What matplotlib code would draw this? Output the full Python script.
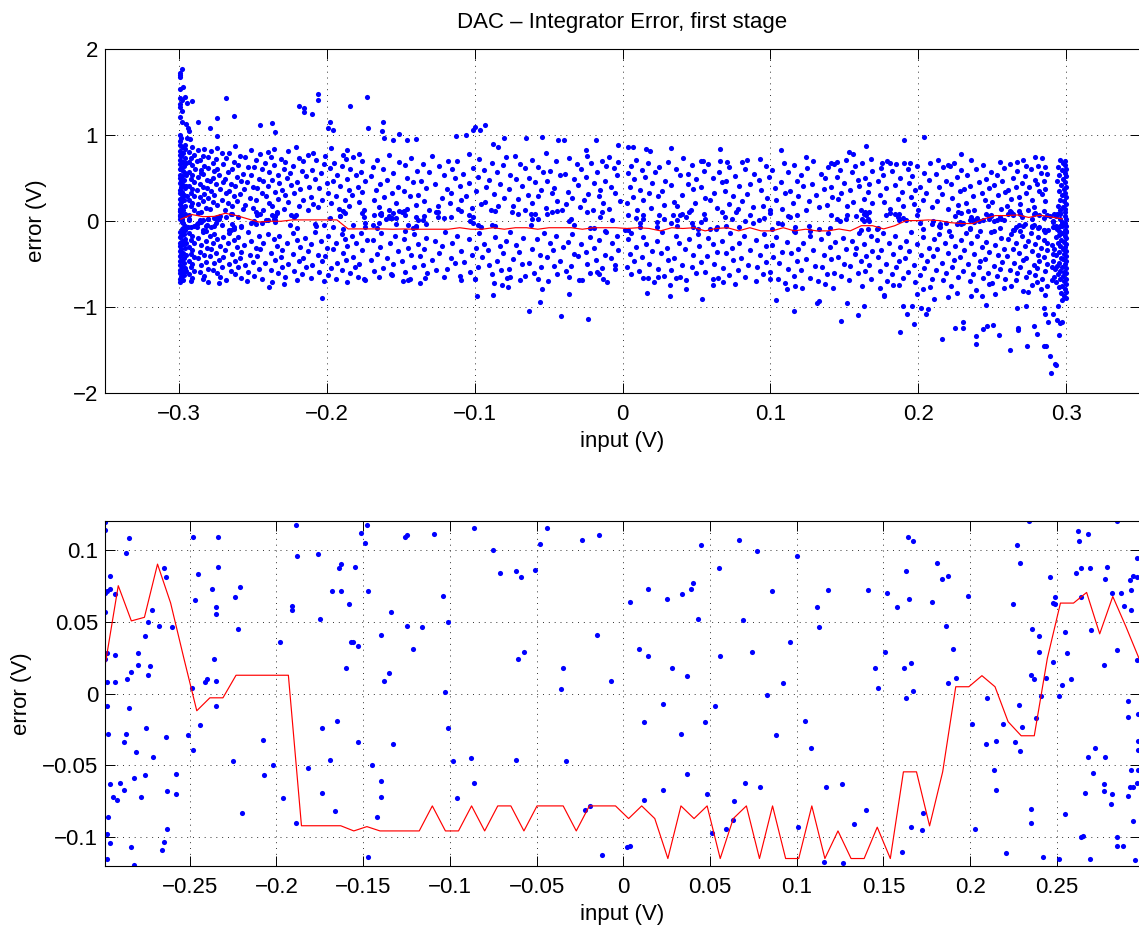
#!/usr/bin/env python3
"""DAC - integrator error vs input, full view and zoom on the mean trace."""
import numpy as np
import matplotlib
matplotlib.use("Agg")
import matplotlib.pyplot as plt

plt.rcParams['font.family'] = ['Liberation Sans', 'DejaVu Sans']

# ── Data ──────────────────────────────────────────────────
TITLE = "DAC \u2013 Integrator Error, first stage"
XLABEL = "input (V)"
YLABEL = "error (V)"

# binned mean of the error (red trace): 80 bins over the input span
bin_lo, bin_hi = -0.2988, 0.2974
mean_err = [0.020, 0.075, 0.0505, 0.053, 0.090, 0.063, 0.025, -0.012, -0.003, -0.003,
            0.0127, 0.0127, 0.0127, 0.0127, 0.0127, -0.092, -0.092, -0.092, -0.092, -0.0956,
            -0.0926, -0.0956, -0.0956, -0.0956, -0.0956, -0.0782, -0.0956, -0.0956, -0.0782, -0.0956,
            -0.0782, -0.0782, -0.0956, -0.0782, -0.0782, -0.0782, -0.0956, -0.0782, -0.0782, -0.0782,
            -0.087, -0.0782, -0.087, -0.1148, -0.0782, -0.087, -0.0782, -0.1148, -0.087, -0.0782,
            -0.1148, -0.0782, -0.1148, -0.1148, -0.0782, -0.1148, -0.0956, -0.1148, -0.1148, -0.093,
            -0.1148, -0.0545, -0.0545, -0.0921, -0.0545, 0.0047, 0.0047, 0.0124, 0.0047, -0.0196,
            -0.0294, -0.0294, 0.0245, 0.0629, 0.0629, 0.0703, 0.0415, 0.0675, 0.0466, 0.0245]

# samples with |error| < 0.12
band_pts = [
    (-0.299,0.119),(-0.299,0.114),(-0.285,0.108),(-0.287,0.098),(-0.296,0.082),(-0.296,0.073),(-0.299,0.070),(-0.298,0.071),(-0.293,0.069),(-0.299,0.057),
    (-0.265,0.087),(-0.264,0.081),(-0.272,0.058),(-0.274,0.050),(-0.268,0.047),(-0.276,0.040),(-0.260,0.046),(-0.298,0.028),(-0.293,0.027),(-0.299,0.024),
    (-0.280,0.028),(-0.280,0.020),(-0.273,0.019),(-0.284,0.015),(-0.274,0.013),(-0.286,0.010),(-0.298,0.008),(-0.293,0.008),(-0.298,-0.009),(-0.285,-0.010),
    (-0.297,-0.028),(-0.287,-0.028),(-0.275,-0.024),(-0.288,-0.034),(-0.264,-0.030),(-0.281,-0.041),(-0.271,-0.044),(-0.251,-0.029),(-0.248,-0.039),(-0.296,-0.063),
    (-0.290,-0.062),(-0.276,-0.057),(-0.258,-0.056),(-0.282,-0.059),(-0.294,-0.072),(-0.292,-0.074),(-0.288,-0.067),(-0.278,-0.072),(-0.263,-0.068),(-0.258,-0.070),
    (-0.297,-0.086),(-0.263,-0.094),(-0.298,-0.098),(-0.296,-0.104),(-0.284,-0.107),(-0.265,-0.103),(-0.266,-0.109),(-0.298,-0.115),(-0.282,-0.119),(-0.248,0.109),
    (-0.234,0.109),(-0.234,0.088),(-0.245,0.083),(-0.237,0.073),(-0.247,0.065),(-0.235,0.060),(-0.235,0.055),(-0.236,0.024),(-0.240,0.010),(-0.241,0.008),
    (-0.235,0.009),(-0.249,0.004),(-0.235,-0.009),(-0.244,-0.022),(-0.225,-0.047),(-0.220,-0.083),(-0.208,-0.032),(-0.207,-0.057),(-0.202,-0.050),(-0.196,-0.073),
    (-0.189,-0.090),(-0.182,-0.052),(-0.174,-0.024),(-0.174,-0.069),(-0.169,-0.046),(-0.165,-0.019),(-0.166,-0.082),(-0.153,-0.034),(-0.160,0.018),(-0.158,0.062),
    (-0.191,0.061),(-0.191,0.058),(-0.189,0.117),(-0.188,0.096),(-0.176,0.097),(-0.175,0.052),(-0.168,0.071),(-0.164,0.087),(-0.163,0.090),(-0.163,0.071),
    (-0.155,0.088),(-0.157,0.036),(-0.156,0.036),(-0.153,0.033),(-0.148,0.117),(-0.151,0.112),(-0.149,0.105),(-0.147,0.071),(-0.147,-0.114),(-0.198,0.036),
    (-0.224,0.067),(-0.221,0.074),(-0.222,0.045),
    (-0.134,0.057),(-0.140,0.041),(-0.125,0.047),(-0.116,0.046),(-0.121,0.031),(-0.135,0.014),(-0.138,0.009),(-0.126,0.109),(-0.125,0.110),(-0.109,0.111),
    (-0.104,0.068),(-0.101,0.050),(-0.103,0.001),(-0.101,-0.024),(-0.133,-0.035),(-0.145,-0.050),(-0.140,-0.061),(-0.140,-0.072),(-0.142,-0.086),(-0.098,-0.047),
    (-0.088,-0.045),(-0.086,-0.062),(-0.096,-0.073),(-0.086,0.115),(-0.075,0.100),(-0.071,0.084),(-0.062,0.085),(-0.059,0.081),(-0.051,0.086),(-0.061,0.024),
    (-0.057,0.029),(-0.062,-0.046),(-0.048,0.104),(-0.044,0.115),(-0.024,0.107),(-0.014,0.110),(-0.015,0.041),(-0.035,0.018),(-0.036,0.003),(-0.007,0.009),
    (-0.033,-0.047),(-0.022,-0.081),(-0.019,-0.078),(-0.012,-0.112),
    (0.004,0.064),(0.014,0.073),(0.025,0.066),(0.034,0.069),(0.039,0.073),(0.040,0.077),(0.043,0.052),(0.045,0.103),(0.009,0.031),(0.014,0.026),
    (0.028,0.018),(0.037,0.012),(0.023,-0.007),(0.012,-0.020),(0.033,-0.028),(0.047,-0.020),(0.037,-0.056),(0.023,-0.067),(0.012,-0.074),(0.048,-0.070),
    (0.002,-0.107),(0.004,-0.106),(0.055,0.087),(0.067,0.107),(0.077,0.099),(0.086,0.071),(0.069,0.051),(0.056,0.026),(0.074,0.029),(0.096,0.036),
    (0.092,0.007),(0.083,-0.001),(0.053,-0.009),(0.088,-0.029),(0.070,-0.062),(0.079,-0.065),(0.064,-0.075),(0.063,-0.088),(0.059,-0.094),(0.051,-0.097),
    (0.100,0.096),(0.118,0.072),(0.112,0.060),(0.113,0.046),(0.141,0.072),(0.152,0.070),(0.151,0.029),(0.145,0.018),(0.147,0.004),(0.105,-0.019),
    (0.108,-0.038),(0.117,-0.065),(0.126,-0.063),(0.140,-0.081),(0.133,-0.091),(0.101,-0.093),(0.116,-0.117),(0.127,-0.118),
    (0.164,0.109),(0.167,0.106),(0.163,0.085),(0.165,0.066),(0.158,0.060),(0.162,0.018),(0.166,0.021),(0.167,0.002),(0.163,-0.003),(0.181,0.091),
    (0.184,0.080),(0.187,0.082),(0.178,0.064),(0.186,0.047),(0.190,0.031),(0.192,0.011),(0.187,0.007),(0.199,0.068),(0.173,-0.083),(0.166,-0.093),
    (0.172,-0.095),(0.161,-0.110),(0.234,0.120),(0.227,0.103),(0.229,0.091),(0.225,0.062),(0.201,-0.021),(0.210,-0.003),(0.209,-0.035),(0.215,-0.033),
    (0.219,-0.021),(0.228,-0.008),(0.230,-0.023),(0.226,-0.034),(0.229,-0.040),(0.214,-0.053),(0.215,-0.067),(0.203,-0.094),(0.221,-0.111),(0.236,0.045),
    (0.240,0.040),(0.240,0.029),(0.235,0.013),(0.237,0.010),(0.244,0.011),(0.241,-0.002),(0.238,-0.017),(0.235,-0.080),(0.235,-0.090),(0.242,-0.114),
    (0.246,0.081),(0.248,0.063),(0.249,0.062),(0.249,0.067),(0.248,0.022),(0.251,-0.002),(0.253,0.006),(0.258,0.010),(0.256,0.028),(0.255,0.043),
    (0.255,-0.084),(0.251,-0.115),(0.262,0.113),(0.263,0.106),(0.268,0.111),(0.285,0.120),(0.261,0.084),(0.264,0.087),(0.269,0.087),(0.264,0.067),
    (0.270,0.044),(0.279,0.088),(0.278,0.080),(0.282,0.070),(0.287,0.070),(0.289,0.061),(0.293,0.058),(0.293,0.072),(0.294,0.082),(0.292,0.079),
    (0.296,0.094),(0.296,0.081),(0.277,0.020),(0.285,0.030),(0.296,0.023),(0.291,-0.005),(0.291,-0.016),(0.297,-0.014),(0.297,-0.033),(0.297,-0.039),
    (0.272,-0.038),(0.268,-0.044),(0.278,-0.044),(0.271,-0.055),(0.293,-0.053),(0.297,-0.053),(0.296,-0.062),(0.292,-0.065),(0.294,-0.065),(0.291,-0.071),
    (0.277,-0.063),(0.277,-0.068),(0.282,-0.070),(0.281,-0.077),(0.266,-0.069),(0.294,-0.089),(0.264,-0.100),(0.265,-0.099),(0.285,-0.100),(0.285,-0.106),
    (0.288,-0.106),(0.269,-0.115),(0.295,-0.116),
    (0.2995,0.10),(0.2990,0.06),(0.2998,0.02),(0.2992,-0.02),(0.2998,-0.06),(0.2993,-0.10),(0.2998,-0.115),
]

# clipped inputs piled up at the -0.3 V end
edge_left = [
    (-0.2995,0.88),(-0.2978,0.86),(-0.2962,0.84),(-0.2990,0.81),(-0.2970,0.79),(-0.2995,0.77),(-0.2983,0.75),(-0.2960,0.73),(-0.2992,0.71),(-0.2975,0.69),
    (-0.2995,0.66),(-0.2966,0.64),(-0.2987,0.62),(-0.2995,0.60),(-0.2972,0.58),(-0.2958,0.56),(-0.2990,0.54),(-0.2980,0.52),(-0.2995,0.50),(-0.2964,0.48),
    (-0.2985,0.46),(-0.2995,0.44),(-0.2970,0.42),(-0.2989,0.40),(-0.2957,0.38),(-0.2995,0.36),(-0.2976,0.34),(-0.2991,0.32),(-0.2963,0.30),(-0.2982,0.28),
    (-0.2995,0.26),(-0.2969,0.24),(-0.2987,0.22),(-0.2995,0.20),(-0.2960,0.18),(-0.2979,0.16),(-0.2993,0.14),(-0.2972,0.125),
    (-0.2995,-0.13),(-0.2968,-0.15),(-0.2986,-0.17),(-0.2995,-0.19),(-0.2961,-0.21),(-0.2980,-0.23),(-0.2993,-0.25),(-0.2973,-0.27),(-0.2995,-0.29),(-0.2958,-0.31),
    (-0.2984,-0.33),(-0.2995,-0.35),(-0.2970,-0.37),(-0.2989,-0.39),(-0.2995,-0.41),(-0.2963,-0.43),(-0.2978,-0.45),(-0.2993,-0.47),(-0.2967,-0.49),(-0.2995,-0.51),
    (-0.2981,-0.53),(-0.2959,-0.55),(-0.2991,-0.57),(-0.2975,-0.59),(-0.2995,-0.61),(-0.2965,-0.63),(-0.2986,-0.65),(-0.2995,-0.67),(-0.2971,-0.69),(-0.2990,-0.71),
    (-0.2955,0.67),(-0.2950,0.53),(-0.2952,0.41),(-0.2948,0.29),(-0.2954,-0.26),(-0.2949,-0.40),(-0.2953,-0.58),
]

# clipped inputs piled up at the +0.3 V end
edge_right = [
    (0.2995,0.70),(0.2980,0.68),(0.2962,0.71),(0.2990,0.65),(0.2945,0.63),(0.2998,0.61),(0.2972,0.59),(0.2990,0.56),(0.2955,0.54),(0.2998,0.52),
    (0.2978,0.49),(0.2940,0.47),(0.2994,0.45),(0.2965,0.42),(0.2998,0.40),(0.2983,0.37),(0.2950,0.35),(0.2993,0.33),(0.2970,0.30),(0.2998,0.28),
    (0.2958,0.25),(0.2987,0.23),(0.2998,0.20),(0.2945,0.18),(0.2976,0.16),(0.2995,0.14),(0.2962,0.125),
    (0.2998,-0.13),(0.2975,-0.14),(0.2950,-0.16),(0.2990,-0.17),(0.2930,-0.19),(0.2998,-0.20),(0.2968,-0.22),(0.2985,-0.24),(0.2945,-0.25),(0.2998,-0.27),
    (0.2960,-0.29),(0.2990,-0.30),(0.2920,-0.32),(0.2978,-0.33),(0.2998,-0.35),(0.2950,-0.36),(0.2988,-0.38),(0.2935,-0.40),(0.2998,-0.41),(0.2965,-0.43),
    (0.2982,-0.44),(0.2912,-0.46),(0.2998,-0.47),(0.2955,-0.49),(0.2990,-0.50),(0.2940,-0.52),(0.2975,-0.53),(0.2998,-0.55),(0.2925,-0.56),(0.2962,-0.58),
    (0.2988,-0.59),(0.2998,-0.61),(0.2945,-0.62),(0.2978,-0.64),(0.2915,-0.65),(0.2998,-0.67),(0.2958,-0.68),(0.2985,-0.70),(0.2932,-0.71),(0.2998,-0.73),
    (0.2970,-0.75),(0.2950,-0.77),(0.2990,-0.79),(0.2998,-0.82),(0.2965,-0.84),(0.2985,-0.87),(0.2998,-0.90),(0.2975,-0.92),(0.2905,-0.28),(0.2908,-0.54),
    (0.2902,-0.69),(0.2910,-0.38),
]

# isolated samples far from the main band
outliers = [
    (-0.2977,1.773),(-0.2993,1.719),(-0.2995,1.696),(-0.2995,1.676),(-0.2970,1.553),(-0.2995,1.533),(-0.2995,1.429),(-0.2980,1.406),(-0.2995,1.359),(-0.2959,1.437),
    (-0.2948,1.375),(-0.2909,1.394),(-0.2995,1.321),(-0.2980,1.282),(-0.2995,1.212),(-0.2981,1.154),(-0.2950,1.127),(-0.2936,1.081),(-0.2929,1.042),(-0.2995,1.000),
    (-0.2988,0.965),(-0.2948,0.961),(-0.2927,0.949),(-0.2959,0.887),(-0.2995,0.934),(-0.2685,1.425),(-0.2625,1.224),(-0.2742,1.197),(-0.2871,1.154),(-0.2789,1.081),
    (-0.2740,0.992),(-0.2449,1.119),(-0.2372,1.143),(-0.2348,1.031),(-0.2187,1.340),(-0.2153,1.309),(-0.2097,1.243),(-0.2155,1.263),(-0.2060,1.476),(-0.2060,1.406),
    (-0.1975,1.154),(-0.1991,1.081),(-0.1961,1.058),(-0.1842,1.336),(-0.1887,0.764),(-0.1871,0.721),(-0.1730,1.444),(-0.1724,1.077),
    (-0.1618,1.150),(-0.1625,1.050),(-0.1611,0.965),(-0.1550,0.941),(-0.1514,1.011),(-0.1460,0.941),(-0.1400,0.949),(-0.1126,0.992),(-0.1058,1.000),(-0.1009,1.058),
    (-0.0995,1.096),(-0.0961,1.058),(-0.0930,1.116),(-0.0873,0.895),(-0.0840,0.864),(-0.0803,0.965),(-0.0652,0.969),(-0.0542,0.976),(-0.0433,0.941),(-0.0397,0.945),
    (-0.0246,0.826),(-0.0178,0.941),(-0.0032,0.887),(0.0036,0.864),
    (-0.1487,-0.698),(-0.1449,-0.690),(-0.1370,-0.717),(-0.1338,-0.659),(-0.1090,-0.682),(-0.0998,-0.675),(-0.0986,-0.876),(-0.0873,-0.857),(-0.0867,-0.717),(-0.0815,-0.740),
    (-0.0776,-0.768),(-0.0758,-0.652),(-0.0695,-0.690),(-0.0630,-1.046),(-0.0560,-0.942),(-0.0546,-0.791),(-0.0506,-0.698),(-0.0415,-1.108),(-0.0363,-0.845),(-0.0291,-0.690),
    (-0.0275,-0.682),(-0.0235,-1.135),(-0.0160,-0.620),(-0.0102,-0.709),(-0.0054,-0.559),(-0.1747,-0.671),(-0.1743,-0.682),(-0.1564,-0.613),
    (0.0074,0.864),(0.0156,0.837),(0.0187,0.818),(0.0330,0.845),(0.0657,0.833),(0.1072,0.826),(0.1530,0.799),(0.1560,0.779),(0.1645,0.868),(0.0528,0.700),
    (0.0544,0.693),(0.0844,0.709),(0.0706,0.683),(0.1408,0.671),(0.1449,0.690),(0.1754,0.671),(0.1808,0.671),
    (0.0165,-0.834),(0.0318,-0.868),(0.0431,-0.787),(0.0537,-0.903),(0.0612,-0.740),(0.1036,-0.915),(0.1158,-1.046),(0.1115,-0.787),(0.1216,-0.775),(0.1318,-0.949),
    (0.1327,-0.926),(0.1424,-0.775),(0.1480,-1.166),(0.1519,-0.949),(0.1593,-1.096),(0.1632,-0.984),(0.1769,-0.864),(0.1740,-0.779),(0.0138,-0.659),(0.0239,-0.651),
    (0.0359,-0.663),(0.0645,-0.659),(0.0995,-0.671),
    (0.1905,0.946),(0.2038,0.973),(0.2288,0.779),(0.2135,0.713),(0.2203,0.655),(0.2214,0.636),(0.2665,0.690),(0.2789,0.748),(0.2835,0.729),(0.2726,0.644),
    (0.1906,0.679),(0.1943,0.675),
    (0.1875,-1.290),(0.1970,-1.201),(0.1959,-0.992),(0.1894,-0.984),(0.1921,-1.085),(0.2017,-1.011),(0.2056,-1.077),(0.2069,-1.023),(0.2158,-1.375),(0.2248,-1.240),
    (0.2304,-1.174),(0.2304,-1.240),(0.2388,-1.340),(0.2390,-1.425),(0.2435,-1.259),(0.2467,-1.224),(0.2507,-1.205),(0.2548,-1.325),(0.2458,-0.973),(0.2620,-1.503),
    (0.2670,-1.011),(0.2676,-1.240),(0.2676,-1.271),(0.2726,-0.988),(0.2733,-1.452),(0.2785,-1.221),(0.2801,-1.310),(0.2853,-1.456),(0.2864,-1.456),(0.2848,-1.007),
    (0.2859,-1.085),(0.2877,-1.174),(0.2893,-1.572),(0.2913,-1.077),(0.2897,-1.773),(0.2929,-1.676),(0.2925,-1.657),(0.2952,-1.329),(0.2959,-1.186),(0.2970,-1.174),
    (0.2936,-1.155),(0.2948,-0.988),(0.1767,-0.876),(0.1830,-0.740),(0.1992,-0.845),(0.2078,-0.768),(0.2106,-0.903),(0.2203,-0.888),(0.2354,-0.876),(0.2429,-0.876),
]

# main cloud, left part (-0.294 .. -0.172)
body_left = [
    (-0.291,0.86),(-0.283,0.84),(-0.274,0.85),(-0.262,0.87),(-0.236,0.84),(-0.221,0.86),(-0.197,0.85),
    (-0.293,0.80),(-0.287,0.82),(-0.278,0.81),(-0.266,0.79),(-0.251,0.82),(-0.240,0.80),(-0.226,0.81),(-0.209,0.79),(-0.186,0.82),
    (-0.290,0.77),(-0.284,0.755),(-0.271,0.785),(-0.259,0.76),(-0.245,0.775),(-0.238,0.745),(-0.213,0.77),(-0.201,0.755),(-0.178,0.78),
    (-0.292,0.73),(-0.286,0.715),(-0.280,0.745),(-0.275,0.72),(-0.268,0.735),(-0.255,0.74),(-0.231,0.72),(-0.219,0.73),(-0.207,0.71),(-0.182,0.74),
    (-0.293,0.69),(-0.288,0.70),(-0.277,0.675),(-0.263,0.69),(-0.248,0.705),(-0.242,0.68),(-0.228,0.69),(-0.216,0.70),(-0.195,0.68),(-0.176,0.70),
    (-0.291,0.65),(-0.283,0.635),(-0.270,0.665),(-0.260,0.65),(-0.253,0.625),(-0.236,0.65),(-0.223,0.64),(-0.202,0.66),(-0.190,0.64),
    (-0.289,0.61),(-0.285,0.595),(-0.280,0.62),(-0.274,0.60),(-0.264,0.61),(-0.249,0.625),(-0.244,0.60),(-0.229,0.61),(-0.210,0.595),(-0.198,0.62),(-0.184,0.61),
    (-0.293,0.57),(-0.285,0.555),(-0.276,0.585),(-0.267,0.57),(-0.257,0.545),(-0.239,0.57),(-0.225,0.56),(-0.217,0.58),(-0.204,0.56),(-0.177,0.57),
    (-0.291,0.53),(-0.287,0.515),(-0.284,0.545),(-0.273,0.53),(-0.261,0.515),(-0.251,0.54),(-0.233,0.53),(-0.214,0.52),(-0.193,0.54),(-0.180,0.53),
    (-0.292,0.49),(-0.281,0.475),(-0.277,0.505),(-0.269,0.49),(-0.258,0.47),(-0.246,0.49),(-0.237,0.48),(-0.227,0.50),(-0.208,0.49),(-0.196,0.47),(-0.186,0.49),
    (-0.290,0.45),(-0.286,0.435),(-0.279,0.465),(-0.270,0.45),(-0.265,0.43),(-0.254,0.45),(-0.243,0.46),(-0.232,0.44),(-0.220,0.45),(-0.200,0.44),(-0.174,0.46),
    (-0.293,0.41),(-0.284,0.395),(-0.275,0.425),(-0.262,0.41),(-0.250,0.39),(-0.240,0.41),(-0.224,0.42),(-0.212,0.40),(-0.191,0.41),(-0.179,0.40),
    (-0.291,0.37),(-0.288,0.355),(-0.281,0.385),(-0.272,0.37),(-0.266,0.35),(-0.256,0.37),(-0.247,0.38),(-0.230,0.36),(-0.218,0.37),(-0.205,0.38),(-0.185,0.36),
    (-0.292,0.33),(-0.283,0.315),(-0.278,0.345),(-0.268,0.33),(-0.259,0.31),(-0.244,0.33),(-0.235,0.34),(-0.222,0.32),(-0.199,0.33),(-0.176,0.34),
    (-0.290,0.29),(-0.286,0.275),(-0.276,0.305),(-0.263,0.29),(-0.252,0.27),(-0.241,0.29),(-0.228,0.30),(-0.211,0.28),(-0.194,0.29),(-0.183,0.30),
    (-0.293,0.25),(-0.284,0.235),(-0.280,0.265),(-0.271,0.25),(-0.261,0.23),(-0.248,0.25),(-0.233,0.26),(-0.216,0.24),(-0.203,0.25),(-0.188,0.24),
    (-0.291,0.21),(-0.287,0.195),(-0.277,0.225),(-0.267,0.21),(-0.255,0.19),(-0.239,0.21),(-0.226,0.22),(-0.209,0.20),(-0.197,0.21),(-0.178,0.22),
    (-0.292,0.17),(-0.282,0.155),(-0.274,0.185),(-0.264,0.17),(-0.250,0.15),(-0.237,0.17),(-0.219,0.18),(-0.206,0.16),(-0.185,0.17),
    (-0.290,0.13),(-0.279,0.14),(-0.269,0.125),(-0.257,0.14),(-0.243,0.13),(-0.229,0.145),(-0.213,0.13),(-0.192,0.14),(-0.175,0.13),
    (-0.293,-0.14),(-0.284,-0.125),(-0.276,-0.155),(-0.266,-0.14),(-0.253,-0.13),(-0.240,-0.15),(-0.223,-0.14),(-0.208,-0.13),(-0.190,-0.15),(-0.177,-0.14),
    (-0.291,-0.18),(-0.287,-0.195),(-0.279,-0.17),(-0.270,-0.185),(-0.260,-0.19),(-0.246,-0.17),(-0.232,-0.18),(-0.215,-0.195),(-0.199,-0.17),(-0.183,-0.18),
    (-0.292,-0.22),(-0.282,-0.235),(-0.274,-0.21),(-0.263,-0.22),(-0.251,-0.235),(-0.236,-0.21),(-0.220,-0.22),(-0.204,-0.23),(-0.188,-0.21),(-0.173,-0.22),
    (-0.290,-0.26),(-0.285,-0.275),(-0.277,-0.25),(-0.267,-0.26),(-0.256,-0.275),(-0.243,-0.25),(-0.227,-0.26),(-0.211,-0.27),(-0.194,-0.25),(-0.180,-0.26),
    (-0.293,-0.30),(-0.281,-0.315),(-0.272,-0.29),(-0.261,-0.30),(-0.248,-0.315),(-0.234,-0.29),(-0.218,-0.30),(-0.200,-0.31),(-0.186,-0.29),
    (-0.291,-0.34),(-0.286,-0.355),(-0.278,-0.33),(-0.269,-0.34),(-0.258,-0.355),(-0.245,-0.33),(-0.230,-0.34),(-0.213,-0.35),(-0.196,-0.33),(-0.176,-0.34),
    (-0.292,-0.38),(-0.283,-0.395),(-0.275,-0.37),(-0.264,-0.38),(-0.252,-0.395),(-0.238,-0.37),(-0.223,-0.38),(-0.206,-0.39),(-0.189,-0.37),
    (-0.290,-0.42),(-0.287,-0.435),(-0.279,-0.41),(-0.270,-0.42),(-0.259,-0.435),(-0.247,-0.41),(-0.231,-0.42),(-0.216,-0.43),(-0.201,-0.41),(-0.182,-0.42),
    (-0.293,-0.46),(-0.282,-0.475),(-0.273,-0.45),(-0.262,-0.46),(-0.250,-0.475),(-0.235,-0.45),(-0.219,-0.46),(-0.203,-0.47),(-0.187,-0.45),
    (-0.291,-0.50),(-0.285,-0.515),(-0.276,-0.49),(-0.266,-0.50),(-0.255,-0.515),(-0.242,-0.49),(-0.226,-0.50),(-0.210,-0.51),(-0.193,-0.49),(-0.178,-0.50),
    (-0.292,-0.54),(-0.280,-0.555),(-0.271,-0.53),(-0.260,-0.54),(-0.246,-0.555),(-0.230,-0.53),(-0.214,-0.54),(-0.197,-0.55),(-0.181,-0.53),
    (-0.290,-0.58),(-0.286,-0.595),(-0.277,-0.57),(-0.265,-0.58),(-0.253,-0.595),(-0.238,-0.57),(-0.222,-0.58),(-0.205,-0.59),(-0.190,-0.57),
    (-0.293,-0.62),(-0.283,-0.635),(-0.274,-0.61),(-0.262,-0.62),(-0.249,-0.635),(-0.233,-0.61),(-0.217,-0.62),(-0.199,-0.63),(-0.184,-0.61),
    (-0.291,-0.66),(-0.284,-0.675),(-0.272,-0.65),(-0.258,-0.66),(-0.244,-0.675),(-0.228,-0.65),(-0.211,-0.66),(-0.194,-0.67),(-0.179,-0.65),
    (-0.292,-0.70),(-0.280,-0.71),(-0.268,-0.69),(-0.254,-0.70),(-0.237,-0.71),(-0.220,-0.69),(-0.202,-0.70),(-0.186,-0.71),
    (-0.273,-0.72),(-0.239,-0.77),(-0.229,-0.73),(-0.203,-0.89),
]

# main cloud, centre-left (-0.17 .. 0)
body_midl = [
    (-0.158,0.77),(-0.129,0.755),(-0.104,0.78),(-0.073,0.75),(-0.052,0.785),(-0.024,0.76),(-0.009,0.745),
    (-0.166,0.715),(-0.143,0.735),(-0.118,0.70),(-0.097,0.725),(-0.079,0.745),(-0.061,0.71),(-0.036,0.73),(-0.014,0.70),
    (-0.151,0.69),(-0.135,0.665),(-0.112,0.695),(-0.088,0.675),(-0.069,0.66),(-0.045,0.70),(-0.021,0.67),(-0.003,0.685),
    (-0.169,0.63),(-0.147,0.655),(-0.124,0.645),(-0.101,0.62),(-0.081,0.65),(-0.057,0.63),(-0.031,0.66),(-0.011,0.64),
    (-0.162,0.605),(-0.139,0.585),(-0.115,0.61),(-0.094,0.59),(-0.066,0.615),(-0.049,0.58),(-0.028,0.60),(-0.006,0.62),
    (-0.155,0.56),(-0.131,0.575),(-0.108,0.545),(-0.085,0.565),(-0.076,0.535),(-0.054,0.57),(-0.039,0.55),(-0.017,0.575),
    (-0.170,0.525),(-0.146,0.505),(-0.121,0.53),(-0.098,0.515),(-0.063,0.50),(-0.042,0.53),(-0.025,0.51),(-0.004,0.535),
    (-0.159,0.48),(-0.136,0.465),(-0.113,0.495),(-0.090,0.475),(-0.072,0.49),(-0.051,0.46),(-0.033,0.485),(-0.012,0.47),
    (-0.164,0.435),(-0.142,0.455),(-0.127,0.425),(-0.104,0.445),(-0.083,0.43),(-0.059,0.45),(-0.019,0.44),
    (-0.152,0.40),(-0.133,0.385),(-0.110,0.41),(-0.092,0.39),(-0.068,0.405),(-0.046,0.385),(-0.030,0.415),(-0.008,0.395),
    (-0.167,0.365),(-0.148,0.345),(-0.119,0.37),(-0.099,0.35),(-0.077,0.375),(-0.055,0.355),(-0.037,0.34),(-0.015,0.365),
    (-0.156,0.32),(-0.138,0.305),(-0.116,0.33),(-0.087,0.315),(-0.064,0.30),(-0.048,0.325),(-0.023,0.31),(-0.005,0.33),
    (-0.161,0.275),(-0.144,0.295),(-0.122,0.265),(-0.106,0.285),(-0.080,0.27),(-0.057,0.29),(-0.034,0.265),(-0.016,0.285),
    (-0.168,0.245),(-0.134,0.23),(-0.109,0.25),(-0.093,0.225),(-0.071,0.255),(-0.044,0.235),(-0.026,0.25),(-0.002,0.23),
    (-0.153,0.205),(-0.140,0.185),(-0.117,0.21),(-0.096,0.195),(-0.074,0.18),(-0.061,0.21),(-0.038,0.195),(-0.013,0.215),
    (-0.165,0.16),(-0.146,0.145),(-0.125,0.17),(-0.102,0.155),(-0.084,0.175),(-0.052,0.15),(-0.029,0.165),(-0.009,0.145),
    (-0.158,0.13),(-0.131,0.125),(-0.111,0.135),(-0.089,0.125),(-0.066,0.13),(-0.041,0.128),(-0.020,0.132),
    (-0.163,-0.135),(-0.141,-0.15),(-0.120,-0.13),(-0.097,-0.145),(-0.076,-0.125),(-0.053,-0.14),(-0.034,-0.155),(-0.011,-0.13),
    (-0.154,-0.18),(-0.133,-0.195),(-0.112,-0.17),(-0.086,-0.185),(-0.067,-0.20),(-0.045,-0.175),(-0.022,-0.19),(-0.004,-0.17),
    (-0.169,-0.225),(-0.148,-0.21),(-0.127,-0.235),(-0.104,-0.215),(-0.079,-0.23),(-0.058,-0.21),(-0.037,-0.24),(-0.016,-0.22),
    (-0.157,-0.255),(-0.138,-0.27),(-0.115,-0.25),(-0.094,-0.265),(-0.072,-0.28),(-0.049,-0.255),(-0.028,-0.27),(-0.007,-0.25),
    (-0.164,-0.30),(-0.145,-0.315),(-0.122,-0.29),(-0.099,-0.31),(-0.083,-0.295),(-0.061,-0.32),(-0.040,-0.30),(-0.019,-0.315),
    (-0.152,-0.345),(-0.134,-0.33),(-0.109,-0.35),(-0.091,-0.335),(-0.070,-0.36),(-0.047,-0.34),(-0.025,-0.355),(-0.003,-0.335),
    (-0.166,-0.38),(-0.143,-0.395),(-0.124,-0.37),(-0.102,-0.39),(-0.081,-0.375),(-0.056,-0.40),(-0.033,-0.38),(-0.012,-0.395),
    (-0.159,-0.425),(-0.137,-0.41),(-0.116,-0.435),(-0.095,-0.415),(-0.074,-0.44),(-0.051,-0.42),(-0.030,-0.405),(-0.008,-0.43),
    (-0.170,-0.455),(-0.149,-0.47),(-0.129,-0.45),(-0.107,-0.475),(-0.085,-0.46),(-0.063,-0.485),(-0.042,-0.465),(-0.018,-0.45),
    (-0.155,-0.50),(-0.135,-0.515),(-0.113,-0.49),(-0.090,-0.51),(-0.068,-0.495),(-0.046,-0.52),(-0.024,-0.50),(-0.005,-0.515),
    (-0.162,-0.545),(-0.141,-0.53),(-0.119,-0.555),(-0.098,-0.535),(-0.077,-0.56),(-0.055,-0.54),(-0.035,-0.525),(-0.014,-0.55),
    (-0.168,-0.58),(-0.147,-0.595),(-0.126,-0.57),(-0.103,-0.59),(-0.082,-0.575),(-0.060,-0.60),(-0.038,-0.58),(-0.017,-0.595),
    (-0.156,-0.625),(-0.132,-0.61),(-0.110,-0.635),(-0.088,-0.615),(-0.066,-0.64),(-0.044,-0.62),(-0.022,-0.605),
    (-0.165,-0.655),(-0.144,-0.67),(-0.121,-0.65),(-0.100,-0.675),(-0.078,-0.66),(-0.057,-0.68),(-0.036,-0.655),(-0.013,-0.67),
]

# main cloud, centre-right (0 .. 0.17)
body_midr = [
    (0.009,0.715),(0.041,0.735),(0.066,0.70),(0.093,0.725),(0.124,0.74),(0.151,0.705),(0.168,0.72),
    (0.017,0.675),(0.031,0.69),(0.058,0.665),(0.081,0.685),(0.109,0.67),(0.129,0.695),(0.143,0.665),(0.162,0.68),
    (0.006,0.645),(0.025,0.63),(0.047,0.65),(0.072,0.625),(0.097,0.64),(0.116,0.655),(0.139,0.63),(0.157,0.645),
    (0.013,0.595),(0.036,0.61),(0.055,0.585),(0.083,0.605),(0.101,0.59),(0.125,0.615),(0.147,0.595),(0.169,0.585),
    (0.004,0.56),(0.022,0.575),(0.044,0.55),(0.065,0.57),(0.089,0.545),(0.112,0.565),(0.134,0.55),(0.155,0.575),
    (0.015,0.515),(0.039,0.53),(0.061,0.505),(0.076,0.525),(0.099,0.51),(0.121,0.535),(0.145,0.515),(0.164,0.50),
    (0.008,0.485),(0.029,0.47),(0.050,0.49),(0.070,0.465),(0.092,0.48),(0.118,0.47),(0.137,0.495),(0.159,0.475),
    (0.020,0.445),(0.044,0.425),(0.067,0.45),(0.086,0.435),(0.107,0.455),(0.128,0.43),(0.150,0.445),(0.167,0.425),
    (0.005,0.40),(0.033,0.415),(0.053,0.39),(0.079,0.41),(0.103,0.385),(0.122,0.405),(0.141,0.39),(0.160,0.41),
    (0.012,0.36),(0.027,0.345),(0.048,0.37),(0.069,0.35),(0.094,0.365),(0.113,0.345),(0.136,0.37),(0.154,0.355),
    (0.018,0.32),(0.040,0.305),(0.062,0.33),(0.084,0.31),(0.110,0.325),(0.131,0.30),(0.148,0.32),(0.166,0.335),
    (0.007,0.275),(0.024,0.29),(0.056,0.27),(0.075,0.285),(0.098,0.265),(0.119,0.29),(0.142,0.275),(0.163,0.26),
    (0.014,0.24),(0.035,0.225),(0.059,0.245),(0.081,0.23),(0.104,0.25),(0.126,0.235),(0.146,0.255),(0.156,0.225),
    (0.003,0.205),(0.028,0.19),(0.049,0.21),(0.072,0.195),(0.095,0.18),(0.115,0.205),(0.138,0.19),(0.169,0.21),
    (0.019,0.155),(0.037,0.17),(0.064,0.15),(0.088,0.165),(0.108,0.145),(0.133,0.16),(0.152,0.175),
    (0.010,0.13),(0.046,0.125),(0.078,0.135),(0.100,0.128),(0.124,0.132),(0.161,0.125),
    (0.006,-0.14),(0.027,-0.125),(0.051,-0.15),(0.073,-0.135),(0.096,-0.155),(0.117,-0.13),(0.139,-0.145),(0.160,-0.135),
    (0.014,-0.185),(0.036,-0.17),(0.058,-0.195),(0.082,-0.175),(0.104,-0.19),(0.127,-0.17),(0.149,-0.195),(0.168,-0.18),
    (0.004,-0.215),(0.023,-0.23),(0.045,-0.21),(0.067,-0.235),(0.090,-0.22),(0.111,-0.24),(0.134,-0.215),(0.155,-0.23),
    (0.016,-0.265),(0.038,-0.25),(0.061,-0.27),(0.079,-0.255),(0.101,-0.275),(0.122,-0.26),(0.144,-0.245),(0.163,-0.27),
    (0.009,-0.30),(0.030,-0.315),(0.052,-0.29),(0.074,-0.31),(0.097,-0.295),(0.119,-0.32),(0.140,-0.30),(0.158,-0.315),
    (0.020,-0.345),(0.042,-0.33),(0.064,-0.355),(0.086,-0.335),(0.108,-0.36),(0.129,-0.34),(0.151,-0.325),(0.169,-0.35),
    (0.005,-0.385),(0.026,-0.37),(0.048,-0.395),(0.070,-0.375),(0.093,-0.39),(0.114,-0.37),(0.136,-0.40),(0.157,-0.38),
    (0.013,-0.42),(0.035,-0.435),(0.057,-0.41),(0.080,-0.43),(0.102,-0.415),(0.124,-0.44),(0.146,-0.42),(0.165,-0.405),
    (0.008,-0.465),(0.031,-0.45),(0.053,-0.475),(0.075,-0.455),(0.097,-0.48),(0.118,-0.46),(0.141,-0.445),(0.161,-0.47),
    (0.018,-0.50),(0.040,-0.515),(0.062,-0.495),(0.085,-0.51),(0.106,-0.49),(0.130,-0.52),(0.150,-0.50),(0.167,-0.515),
    (0.003,-0.54),(0.024,-0.555),(0.047,-0.53),(0.068,-0.55),(0.091,-0.535),(0.112,-0.56),(0.135,-0.54),(0.154,-0.525),
    (0.011,-0.585),(0.033,-0.57),(0.056,-0.595),(0.078,-0.575),(0.100,-0.59),(0.121,-0.57),(0.143,-0.60),(0.164,-0.58),
    (0.006,-0.62),(0.028,-0.635),(0.050,-0.61),(0.072,-0.63),(0.095,-0.615),(0.116,-0.64),(0.138,-0.62),(0.159,-0.605),
    (0.017,-0.665),(0.039,-0.65),(0.061,-0.675),(0.083,-0.655),(0.105,-0.68),(0.127,-0.66),(0.148,-0.645),(0.168,-0.67),
    (0.021,-0.705),(0.043,-0.69),(0.068,-0.715),(0.090,-0.695),(0.110,-0.72),(0.132,-0.70),(0.153,-0.685),
    (0.032,-0.745),(0.076,-0.735),(0.117,-0.75),(0.137,-0.73),(0.162,-0.755),
]

# main cloud, right part (0.172 .. 0.287)
body_right = [
    (0.179,0.70),(0.208,0.68),(0.236,0.71),(0.255,0.69),(0.271,0.71),
    (0.185,0.66),(0.199,0.64),(0.224,0.67),(0.244,0.65),(0.262,0.66),(0.281,0.64),
    (0.175,0.62),(0.193,0.60),(0.217,0.63),(0.239,0.61),(0.258,0.62),(0.276,0.60),(0.286,0.63),
    (0.182,0.58),(0.204,0.56),(0.229,0.59),(0.249,0.57),(0.267,0.58),(0.283,0.56),
    (0.176,0.54),(0.196,0.52),(0.212,0.55),(0.233,0.53),(0.253,0.54),(0.272,0.52),(0.287,0.55),
    (0.188,0.50),(0.207,0.48),(0.226,0.51),(0.246,0.49),(0.264,0.50),(0.279,0.48),
    (0.173,0.46),(0.194,0.44),(0.219,0.47),(0.241,0.45),(0.257,0.46),(0.270,0.44),(0.285,0.47),
    (0.184,0.42),(0.201,0.40),(0.222,0.43),(0.235,0.41),(0.251,0.42),(0.266,0.40),(0.280,0.43),
    (0.178,0.38),(0.198,0.36),(0.214,0.39),(0.231,0.37),(0.248,0.38),(0.261,0.36),(0.275,0.39),(0.286,0.37),
    (0.189,0.34),(0.205,0.32),(0.228,0.35),(0.243,0.33),(0.259,0.34),(0.273,0.32),(0.282,0.35),
    (0.174,0.30),(0.195,0.28),(0.216,0.31),(0.237,0.29),(0.254,0.30),(0.268,0.28),(0.284,0.31),
    (0.186,0.26),(0.203,0.24),(0.223,0.27),(0.245,0.25),(0.263,0.26),(0.277,0.24),
    (0.177,0.22),(0.197,0.20),(0.213,0.23),(0.232,0.21),(0.250,0.22),(0.269,0.20),(0.286,0.23),
    (0.190,0.18),(0.209,0.16),(0.227,0.19),(0.247,0.17),(0.260,0.18),(0.278,0.16),
    (0.181,0.14),(0.200,0.13),(0.220,0.14),(0.238,0.13),(0.256,0.14),(0.274,0.13),
    (0.176,-0.14),(0.195,-0.13),(0.214,-0.15),(0.232,-0.14),(0.249,-0.13),(0.263,-0.15),(0.276,-0.14),(0.286,-0.13),
    (0.184,-0.18),(0.203,-0.19),(0.222,-0.17),(0.240,-0.18),(0.256,-0.20),(0.270,-0.17),(0.281,-0.19),
    (0.172,-0.22),(0.192,-0.23),(0.211,-0.21),(0.229,-0.22),(0.246,-0.24),(0.261,-0.21),(0.274,-0.23),(0.285,-0.22),
    (0.180,-0.26),(0.199,-0.27),(0.218,-0.25),(0.236,-0.26),(0.252,-0.28),(0.266,-0.25),(0.279,-0.27),(0.287,-0.26),
    (0.188,-0.30),(0.207,-0.31),(0.225,-0.29),(0.243,-0.30),(0.258,-0.32),(0.272,-0.29),(0.283,-0.31),
    (0.175,-0.34),(0.194,-0.35),(0.213,-0.33),(0.231,-0.34),(0.248,-0.36),(0.264,-0.33),(0.277,-0.35),(0.287,-0.34),
    (0.183,-0.38),(0.202,-0.39),(0.220,-0.37),(0.238,-0.38),(0.254,-0.40),(0.268,-0.37),(0.281,-0.39),
    (0.173,-0.42),(0.191,-0.43),(0.210,-0.41),(0.228,-0.42),(0.245,-0.44),(0.260,-0.41),(0.273,-0.43),(0.285,-0.42),
    (0.187,-0.46),(0.206,-0.47),(0.224,-0.45),(0.242,-0.46),(0.257,-0.48),(0.271,-0.45),(0.282,-0.47),
    (0.178,-0.50),(0.197,-0.51),(0.216,-0.49),(0.234,-0.50),(0.251,-0.52),(0.265,-0.49),(0.278,-0.51),(0.287,-0.50),
    (0.185,-0.54),(0.204,-0.55),(0.223,-0.53),(0.241,-0.54),(0.255,-0.56),(0.269,-0.53),(0.280,-0.55),
    (0.174,-0.58),(0.193,-0.59),(0.212,-0.57),(0.230,-0.58),(0.247,-0.60),(0.262,-0.57),(0.275,-0.59),(0.286,-0.58),
    (0.182,-0.62),(0.201,-0.63),(0.219,-0.61),(0.237,-0.62),(0.253,-0.64),(0.267,-0.61),(0.279,-0.63),
    (0.190,-0.66),(0.209,-0.67),(0.227,-0.65),(0.244,-0.66),(0.259,-0.68),(0.273,-0.65),(0.284,-0.67),
    (0.179,-0.70),(0.198,-0.71),(0.217,-0.69),(0.235,-0.70),(0.250,-0.72),(0.266,-0.69),(0.280,-0.71),
    (0.187,-0.74),(0.222,-0.75),(0.248,-0.73),(0.263,-0.76),(0.277,-0.74),(0.287,-0.75),
    (0.203,-0.79),(0.239,-0.80),(0.258,-0.78),(0.271,-0.81),(0.283,-0.79),
    (0.226,-0.84),(0.252,-0.85),(0.274,-0.83),(0.286,-0.86),
]

# axis ticks
top_xticks = [-0.3, -0.2, -0.1, 0, 0.1, 0.2, 0.3]
top_xticklabels = ["\u22120.3", "\u22120.2", "\u22120.1", "0", "0.1", "0.2", "0.3"]
top_yticks = [-2, -1, 0, 1, 2]
top_yticklabels = ["\u22122", "\u22121", "0", "1", "2"]
bot_xticks = [-0.25, -0.2, -0.15, -0.1, -0.05, 0, 0.05, 0.1, 0.15, 0.2, 0.25]
bot_xticklabels = ["\u22120.25", "\u22120.2", "\u22120.15", "\u22120.1", "\u22120.05", "0",
                   "0.05", "0.1", "0.15", "0.2", "0.25"]
bot_yticks = [-0.1, -0.05, 0, 0.05, 0.1]
bot_yticklabels = ["\u22120.1", "\u22120.05", "0", "0.05", "0.1"]


# ── Plot ──────────────────────────────────────────────────
def style(ax):
    ax.tick_params(direction='in', top=True, right=True, length=7.5, width=0.7,
                   labelsize=16, colors='black')
    ax.tick_params(axis='x', pad=8)
    ax.tick_params(axis='y', pad=5)
    ax.grid(True, color='0.2', linestyle=(0, (1, 5)), linewidth=0.7)
    ax.set_axisbelow(True)
    for s in ax.spines.values():
        s.set_linewidth(0.8)


def main():
    pts = np.array(band_pts + edge_left + edge_right + outliers
                   + body_left + body_midl + body_midr + body_right)
    x, y = pts[:, 0], pts[:, 1]
    line_x = np.linspace(bin_lo, bin_hi, len(mean_err))

    W, H = 1139, 930
    fig = plt.figure(figsize=(W / 100, H / 100), dpi=100)
    ax1 = fig.add_axes([105 / W, 1 - 393 / H, 1035 / W, 344 / H])
    ax2 = fig.add_axes([105 / W, 1 - 866 / H, 1035 / W, 345 / H])

    for ax in (ax1, ax2):
        ax.plot(x, y, 'o', ms=3.7, mfc='blue', mec='none', mew=0)
        ax.plot(line_x, mean_err, color='red', lw=0.85)
        style(ax)
        ax.set_xlabel(XLABEL, fontsize=16, labelpad=4)

    ax1.set_xlim(-0.35, 0.35); ax1.set_ylim(-2, 2)
    ax1.set_xticks(top_xticks); ax1.set_xticklabels(top_xticklabels)
    ax1.set_yticks(top_yticks); ax1.set_yticklabels(top_yticklabels)
    ax1.set_title(TITLE, fontsize=16, pad=15)
    ax1.set_ylabel(YLABEL, fontsize=16)
    ax1.yaxis.set_label_coords(-0.056, 0.5)

    ax2.set_xlim(-0.2989, 0.2980); ax2.set_ylim(-0.12, 0.12)
    ax2.set_xticks(bot_xticks); ax2.set_xticklabels(bot_xticklabels)
    ax2.set_yticks(bot_yticks); ax2.set_yticklabels(bot_yticklabels)
    ax2.set_ylabel(YLABEL, fontsize=16)
    ax2.yaxis.set_label_coords(-0.0705, 0.5)

    fig.savefig("out.png", dpi=100)
    plt.close(fig)


if __name__ == "__main__":
    main()
